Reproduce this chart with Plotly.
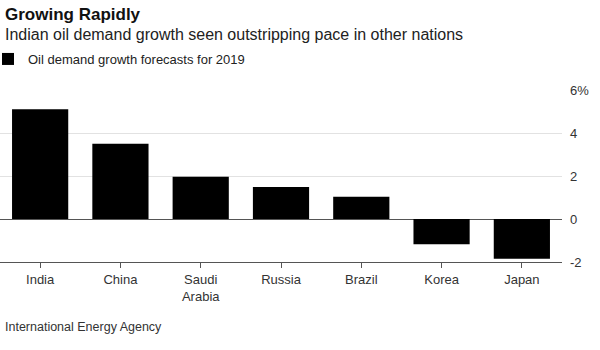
import plotly.graph_objects as go

countries = ["India", "China", "Saudi<br>Arabia", "Russia", "Brazil", "Korea", "Japan"]
growth = [5.1, 3.5, 1.97, 1.49, 1.04, -1.17, -1.85]
tick_vals = [-2, 0, 2, 4, 6]
tick_text = ["-2", "0", "2", "4", "6%"]

FONT = "Liberation Sans, Arial, sans-serif"
W, H = 600, 350
ML, MR, MT, MB = 0, 38, 90, 88
PW = W - ML - MR
PH = H - MT - MB

def px(x):
    return (x - ML) / PW

def py(y):
    return (H - MB - y) / PH

fig = go.Figure()
fig.add_trace(go.Bar(
    x=countries, y=growth, marker=dict(color="#000000", line=dict(width=0)),
    name="Oil demand growth forecasts for 2019", showlegend=True,
))

fig.update_layout(
    width=W, height=H,
    margin=dict(l=ML, r=MR, t=MT, b=MB),
    paper_bgcolor="white", plot_bgcolor="white",
    font=dict(family=FONT, size=13, color="#333333"),
    bargap=0.3,
    showlegend=True,
    legend=dict(xref="container", yref="container", x=0, y=1 - 44 / H,
                xanchor="left", yanchor="top", orientation="h",
                font=dict(size=13, color="#222222"), bgcolor="rgba(0,0,0,0)",
                itemwidth=30, indentation=-12),
    xaxis=dict(
        showgrid=False, showline=True, linecolor="#555555", linewidth=1,
        ticks="outside", ticklen=5, tickcolor="#555555",
        tickfont=dict(size=13, color="#333333"), fixedrange=True,
    ),
    yaxis=dict(
        side="right", range=[-2, 6], tickvals=tick_vals, ticktext=tick_text,
        showgrid=True, gridcolor="#e2e2e2", gridwidth=1,
        zeroline=True, zerolinecolor="#555555", zerolinewidth=1,
        showline=False, ticks="", ticklabelstandoff=7,
        tickfont=dict(size=13, color="#333333"), fixedrange=True,
    ),
    annotations=[
        dict(text="<b>Growing Rapidly</b>", x=px(3), y=py(15), xref="paper", yref="paper",
             xanchor="left", yanchor="middle", showarrow=False,
             font=dict(size=17, color="#111111", family=FONT)),
        dict(text="Indian oil demand growth seen outstripping pace in other nations",
             x=px(3), y=py(34), xref="paper", yref="paper",
             xanchor="left", yanchor="middle", showarrow=False,
             font=dict(size=16, color="#222222", family=FONT)),
        dict(text="International Energy Agency", x=px(3), y=py(327), xref="paper", yref="paper",
             xanchor="left", yanchor="middle", showarrow=False,
             font=dict(size=12.5, color="#333333", family=FONT)),
    ],
)

fig.write_html("out.html")
